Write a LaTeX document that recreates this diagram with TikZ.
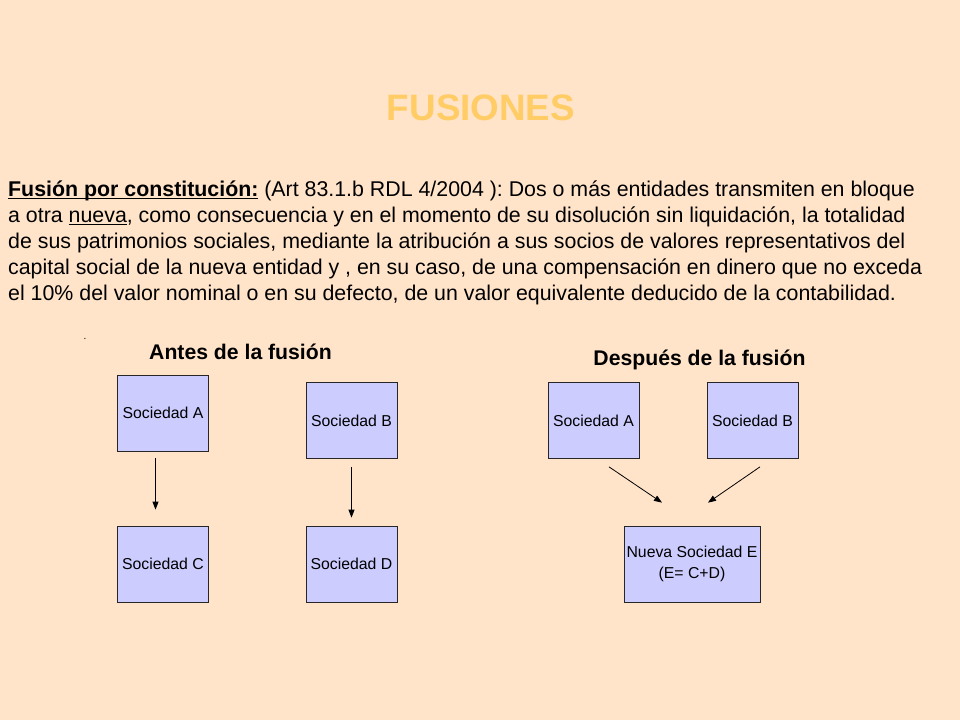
\documentclass[tikz,border=0pt]{standalone}
\usepackage{fontspec}
\setmainfont{Liberation Sans}
\usetikzlibrary{arrows.meta,calc}
\definecolor{bgpeach}{HTML}{FFE4CA}
\definecolor{titlegold}{HTML}{FFCC66}
\definecolor{boxblue}{HTML}{CCCCFF}
\frenchspacing
\newcommand\myul[1]{\setbox0\hbox{#1}\rlap{\rule[-2.8pt]{\wd0}{1.2pt}}\box0\relax}
\tikzset{
  soc/.style={draw=black!85, line width=0.7pt, fill=boxblue, minimum width=91pt, minimum height=76pt, inner sep=0pt, font=\fontsize{15.8}{21}\selectfont, align=center},
  para/.style={anchor=base west, inner sep=0pt, font=\fontsize{21.35}{26}\selectfont},
  head/.style={inner sep=0pt, font=\bfseries\fontsize{21.2}{24}\selectfont},
  arr/.style={draw=black, line width=0.8pt, -{Triangle[length=8pt,width=6pt]}}
}
\begin{document}
\begin{tikzpicture}[x=1pt,y=-1pt]
\fill[bgpeach] (0,0) rectangle (960,720);
\useasboundingbox (0,0) rectangle (960,720);
\node[inner sep=0pt, text=titlegold, font=\bfseries\fontsize{36.8}{40}\selectfont] (title) at (481,108) {FUSIONES};
\node[para] (l1) at (8,196) {\myul{\textbf{Fusión por constitución:}} (Art 83.1.b RDL 4/2004 ): Dos o más entidades transmiten en bloque};
\node[para] (l2) at (8,222) {a otra \myul{nueva}, como consecuencia y en el momento de su disolución sin liquidación, la totalidad};
\node[para] (l3) at (8,248) {de sus patrimonios sociales, mediante la atribución a sus socios de valores representativos del};
\node[para] (l4) at (8,274) {capital social de la nueva entidad y , en su caso, de una compensación en dinero que no exceda};
\node[para] (l5) at (8,300) {el 10\% del valor nominal o en su defecto, de un valor equivalente deducido de la contabilidad.};
\node[inner sep=0pt, font=\fontsize{10}{12}\selectfont] (dot) at (85,339) {.};
\node[head] (antes) at (240.5,352) {Antes de la fusión};
\node[head] (despues) at (699.5,360) {Después de la fusión};
\node[soc] (A) at (163,413) {Sociedad A};
\node[soc] (B) at (351.5,420.5) {Sociedad B};
\node[soc] (C) at (163,564) {Sociedad C};
\node[soc] (D) at (351.5,564) {Sociedad D};
\node[soc] (RA) at (593.5,420.5) {Sociedad A};
\node[soc] (RB) at (752.5,420.5) {Sociedad B};
\node[soc, minimum width=136pt] (E) at (692,564) {Nueva Sociedad E\\(E= C+D)};
\coordinate (c1) at ($(A.south)+(-7.5,7)$);
\coordinate (c2) at ($(C.north)+(-7.5,-16)$);
\draw[arr] (c1) -- (c2);
\draw[arr, shorten <=8pt, shorten >=8pt] (B) -- (D);
\coordinate (a1) at ($(RA.south)+(15.5,8)$);
\coordinate (a2) at ($(E.north)+(-30,-23)$);
\coordinate (b1) at ($(RB.south)+(7.5,8)$);
\coordinate (b2) at ($(E.north)+(16,-23)$);
\draw[arr] (a1) -- (a2);
\draw[arr] (b1) -- (b2);
\end{tikzpicture}
\end{document}
